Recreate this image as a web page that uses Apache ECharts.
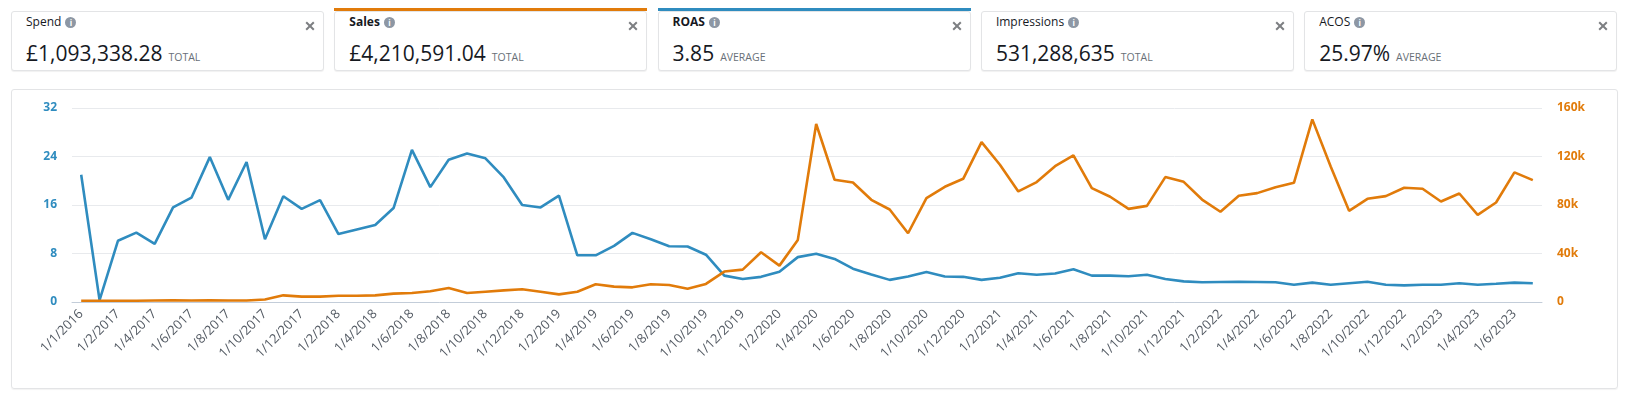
<!DOCTYPE html>
<html>
<head>
<meta charset="utf-8">
<title>Sales and ROAS</title>
<script src="https://cdn.jsdelivr.net/npm/echarts/dist/echarts.min.js"></script>
<style>
  html, body { margin: 0; padding: 0; background: #fff; }
  body { width: 1628px; height: 399px; position: relative; overflow: hidden; font-family: 'Open Sans', sans-serif; color: #16191f; }
  .card { position: absolute; top: 10.7px; width: 313px; height: 60px; box-sizing: border-box; border: 1px solid #e3e4e6; border-radius: 3px; background: #fff; box-shadow: 0 1px 1px rgba(0,0,0,0.06); }
  .card .bar { position: absolute; left: -1px; right: -1px; top: -4px; height: 3px; }
  .card .title { position: absolute; left: 14px; top: 2px; font-size: 12px; line-height: 16px; white-space: nowrap; }
  .card .title.sel { font-weight: bold; }
  .card .info { display: inline-block; width: 11px; height: 11px; margin-left: 4px; border-radius: 50%; background: #8d97a4; color: #fff; font-size: 8px; font-weight: bold; line-height: 11px; text-align: center; }
  .card .close { position: absolute; right: 8px; top: 9px; }
  .card .value { position: absolute; left: 14px; top: 29.5px; font-size: 21px; line-height: 24px; white-space: nowrap; }
  .card .unit { margin-left: 6px; font-size: 10.5px; color: #687078; }
  #panel { position: absolute; left: 10.7px; top: 88.7px; width: 1607.3px; height: 300.3px; box-sizing: border-box; border: 1px solid #e3e4e6; border-radius: 3px; box-shadow: 0 1px 1px rgba(0,0,0,0.05); }
  #chart { position: absolute; left: 0; top: 0; width: 1628px; height: 399px; }
</style>
</head>
<body>
<div id="cards"></div>
<div id="panel"></div>
<div id="chart"></div>
<script>
// KPI summary tiles
const kpiNames = ['Spend', 'Sales', 'ROAS', 'Impressions', 'ACOS'];
const kpiValues = ['£1,093,338.28', '£4,210,591.04', '3.85', '531,288,635', '25.97%'];
const kpiUnits = ['TOTAL', 'TOTAL', 'AVERAGE', 'TOTAL', 'AVERAGE'];
const kpiSelected = [null, '#e17b0a', '#2f8cbf', null, null];

// monthly data (Sales on the right axis, ROAS on the left)
const months = [
  '1/1/2016', '1/1/2017', '1/2/2017', '1/3/2017', '1/4/2017', '1/5/2017', '1/6/2017', '1/7/2017', '1/8/2017', '1/9/2017',
  '1/10/2017', '1/11/2017', '1/12/2017', '1/1/2018', '1/2/2018', '1/3/2018', '1/4/2018', '1/5/2018', '1/6/2018', '1/7/2018',
  '1/8/2018', '1/9/2018', '1/10/2018', '1/11/2018', '1/12/2018', '1/1/2019', '1/2/2019', '1/3/2019', '1/4/2019', '1/5/2019',
  '1/6/2019', '1/7/2019', '1/8/2019', '1/9/2019', '1/10/2019', '1/11/2019', '1/12/2019', '1/1/2020', '1/2/2020', '1/3/2020',
  '1/4/2020', '1/5/2020', '1/6/2020', '1/7/2020', '1/8/2020', '1/9/2020', '1/10/2020', '1/11/2020', '1/12/2020', '1/1/2021',
  '1/2/2021', '1/3/2021', '1/4/2021', '1/5/2021', '1/6/2021', '1/7/2021', '1/8/2021', '1/9/2021', '1/10/2021', '1/11/2021',
  '1/12/2021', '1/1/2022', '1/2/2022', '1/3/2022', '1/4/2022', '1/5/2022', '1/6/2022', '1/7/2022', '1/8/2022', '1/9/2022',
  '1/10/2022', '1/11/2022', '1/12/2022', '1/1/2023', '1/2/2023', '1/3/2023', '1/4/2023', '1/5/2023', '1/6/2023', '1/7/2023'
];

const roas = [
  21.0, 0.3, 10.1, 11.45, 9.6, 15.6, 17.2, 23.9, 16.85, 23.1,
  10.35, 17.45, 15.35, 16.8, 11.2, 11.95, 12.7, 15.5, 25.1, 18.95,
  23.45, 24.5, 23.7, 20.55, 16.0, 15.6, 17.55, 7.7, 7.7, 9.25,
  11.4, 10.35, 9.2, 9.15, 7.8, 4.35, 3.8, 4.15, 5.0, 7.4,
  7.95, 7.1, 5.5, 4.55, 3.65, 4.2, 4.95, 4.2, 4.15, 3.65,
  4.0, 4.75, 4.5, 4.7, 5.4, 4.35, 4.35, 4.25, 4.5, 3.8,
  3.4, 3.25, 3.3, 3.35, 3.3, 3.25, 2.85, 3.2, 2.85, 3.1,
  3.35, 2.85, 2.75, 2.85, 2.85, 3.1, 2.85, 3.0, 3.2, 3.1
];

const sales = [
  1000, 1000, 1000, 1000, 1200, 1400, 1200, 1400, 1200, 1200,
  2000, 5500, 4400, 4400, 5200, 5200, 5500, 6900, 7400, 8800,
  11600, 7400, 8500, 9600, 10500, 8500, 6300, 8500, 14600, 12700,
  12100, 14600, 14000, 11000, 14900, 25100, 26700, 41000, 30000, 51200,
  146800, 100800, 98600, 84300, 76300, 56700, 85600, 95000, 101600, 131900,
  113200, 91200, 98900, 112000, 120900, 93900, 86800, 76800, 79300, 103000,
  99100, 84500, 74400, 87600, 89800, 94700, 98300, 150600, 111800, 75200,
  85100, 87300, 94200, 93400, 82900, 89500, 71900, 82100, 106900, 100500
];

const roasTicks = { min: 0, max: 32, interval: 8 };
const salesTicks = { min: 0, max: 160000, interval: 40000 };

// build the tiles
const cardsEl = document.getElementById('cards');
kpiNames.forEach((name, i) => {
  const card = document.createElement('div');
  card.className = 'card';
  card.style.left = (11 + i * 323.3) + 'px';
  let html = '';
  if (kpiSelected[i]) {
    html += '<div class="bar" style="background:' + kpiSelected[i] + '"></div>';
  }
  html += '<div class="title' + (kpiSelected[i] ? ' sel' : '') + '">' + name + '<span class="info">i</span></div>';
  html += '<svg class="close" width="10" height="10" viewBox="0 0 10 10"><path d="M1.2 1.2L8.8 8.8M8.8 1.2L1.2 8.8" stroke="#7d7f82" stroke-width="2"/></svg>';
  html += '<div class="value">' + kpiValues[i] + '<span class="unit">' + kpiUnits[i] + '</span></div>';
  card.innerHTML = html;
  cardsEl.appendChild(card);
});

const chart = echarts.init(document.getElementById('chart'));

const option = {
  animation: false,
  grid: { left: 72, right: 86, top: 108, bottom: 97 },
  xAxis: {
    type: 'category',
    data: months,
    boundaryGap: true,
    axisTick: { show: false },
    axisLine: { lineStyle: { color: '#c3cdd9' } },
    axisLabel: {
      interval: 1,
      rotate: 45,
      margin: 10,
      color: '#545b64',
      fontSize: 13,
      fontFamily: 'Open Sans'
    }
  },
  yAxis: [
    {
      type: 'value',
      position: 'left',
      min: roasTicks.min,
      max: roasTicks.max,
      interval: roasTicks.interval,
      axisLine: { show: false },
      axisTick: { show: false },
      axisLabel: { margin: 15, color: '#2f8cbf', fontSize: 12, fontWeight: 'bold', fontFamily: 'Open Sans' },
      splitLine: { lineStyle: { color: '#e8eaed' } }
    },
    {
      type: 'value',
      position: 'right',
      min: salesTicks.min,
      max: salesTicks.max,
      interval: salesTicks.interval,
      axisLine: { show: false },
      axisTick: { show: false },
      axisLabel: {
        margin: 15,
        color: '#e17b0a',
        fontSize: 12,
        fontWeight: 'bold',
        fontFamily: 'Open Sans',
        formatter: function (v) {
          return v === 0 ? '0' : (v / 1000) + 'k';
        }
      },
      splitLine: { show: false }
    }
  ],
  series: [
    {
      name: 'ROAS',
      type: 'line',
      yAxisIndex: 0,
      data: roas,
      showSymbol: false,
      lineStyle: { width: 2.6, color: '#2f8cbf' },
      itemStyle: { color: '#2f8cbf' }
    },
    {
      name: 'Sales',
      type: 'line',
      yAxisIndex: 1,
      data: sales,
      showSymbol: false,
      lineStyle: { width: 2.6, color: '#e17b0a' },
      itemStyle: { color: '#e17b0a' }
    }
  ]
};

chart.setOption(option);
</script>
</body>
</html>
